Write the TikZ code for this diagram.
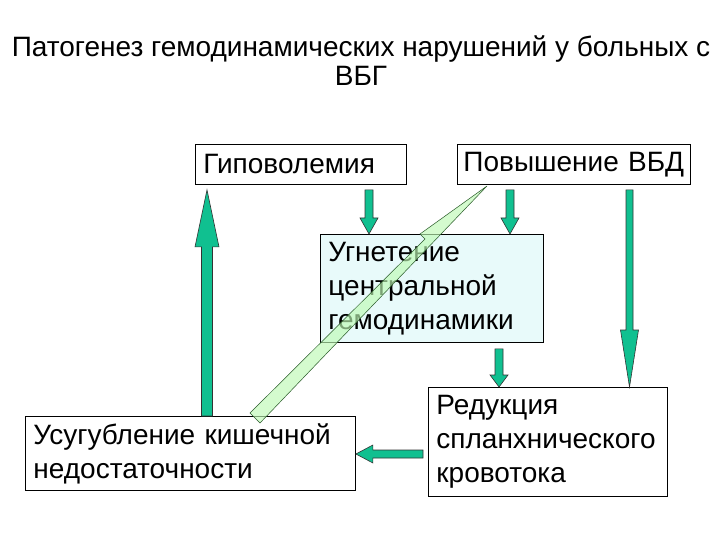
\documentclass[tikz,border=0pt]{standalone}
\usepackage{fontspec}
\setmainfont{Liberation Sans}
\usetikzlibrary{calc}
\definecolor{arr}{RGB}{16,192,144}
\definecolor{cyanbox}{RGB}{232,250,250}
\definecolor{diagfill}{RGB}{190,250,180}
\definecolor{diagline}{RGB}{40,90,40}
\newcommand\blockarrow[5]{%
  \coordinate (ba-h) at ($(#2)!#5!(#1)$);
  \draw[blockarrowstyle] ($(#1)!#3!90:(#2)$) -- ($(ba-h)!#3!90:(#2)$) -- ($(ba-h)!#4!90:(#2)$) -- (#2)
    -- ($(ba-h)!#4!-90:(#2)$) -- ($(ba-h)!#3!-90:(#2)$) -- ($(#1)!#3!-90:(#2)$) -- cycle;
}
\tikzset{
  box/.style={draw=black, line width=0.9pt, rectangle, inner xsep=8pt, inner ysep=0pt,
    align=left, font=\fontsize{28}{34}\selectfont, anchor=north west},
  blockarrowstyle/.style={fill=arr, draw=black!80, line width=0.6pt, line join=miter},
  titletext/.style={font=\fontsize{28}{31}\selectfont, anchor=base}
}
\begin{document}
\begin{tikzpicture}[x=1pt,y=1pt]
\useasboundingbox (0,0) rectangle (720,-540);
\fill[white] (0,0) rectangle (720,-540);

\node[titletext] (t1) at (361,-57) {Патогенез гемодинамических нарушений у больных с};
\node[titletext] (t2) at (361,-86) {ВБГ};

\node[box, minimum height=40pt, text width=195pt] (hypo) at (195,-144) {\mbox{Гиповолемия}};
\node[box, inner xsep=6pt, minimum height=40pt, text width=221pt] (vbd) at (457,-144) {\mbox{Повышение ВБД}};
\node[box, fill=cyanbox, minimum height=108pt, text width=207pt] (ugn) at (320,-234) {Угнетение\\центральной\\гемодинамики};
\node[box, minimum height=74pt, text width=314pt] (usug) at (25,-416) {\mbox{Усугубление кишечной}\\недостаточности};
\node[box, minimum height=109pt, text width=223pt] (red) at (428,-387) {Редукция\\спланхнического\\кровотока};

\coordinate (a1s) at ($(hypo.south west)+(174,-5)$);
\coordinate (a1e) at (a1s |- ugn.north);
\coordinate (a2s) at ($(vbd.south west)+(53,-5)$);
\coordinate (a2e) at (a2s |- ugn.north);
\coordinate (a3s) at ($(ugn.south west)+(179,-6)$);
\coordinate (a3e) at (a3s |- red.north);
\coordinate (a4s) at ($(vbd.south west)+(172.5,-5)$);
\coordinate (a4e) at (a4s |- red.north);
\coordinate (a5s) at ($(usug.north west)+(182,0)$);
\coordinate (a5e) at ($(a5s |- hypo.south)+(0,-5)$);
\coordinate (a6s) at ($(red.north west)+(-5,-67)$);
\coordinate (a6e) at (a6s -| usug.east);

\blockarrow{a1s}{a1e}{4pt}{9pt}{16pt}
\blockarrow{a2s}{a2e}{4pt}{9pt}{16pt}
\blockarrow{a3s}{a3e}{4pt}{9pt}{12pt}
\blockarrow{a4s}{a4e}{3.5pt}{9pt}{57pt}
\blockarrow{a5s}{a5e}{5.5pt}{12pt}{57pt}
\blockarrow{a6s}{a6e}{4pt}{9pt}{17pt}

\draw[fill=diagfill, fill opacity=0.65, draw=diagline, line width=0.5pt, line join=miter]
  (250,-413) -- (425,-239) -- (420,-234) -- (487,-186) -- (260,-423) -- cycle;
\end{tikzpicture}
\end{document}
